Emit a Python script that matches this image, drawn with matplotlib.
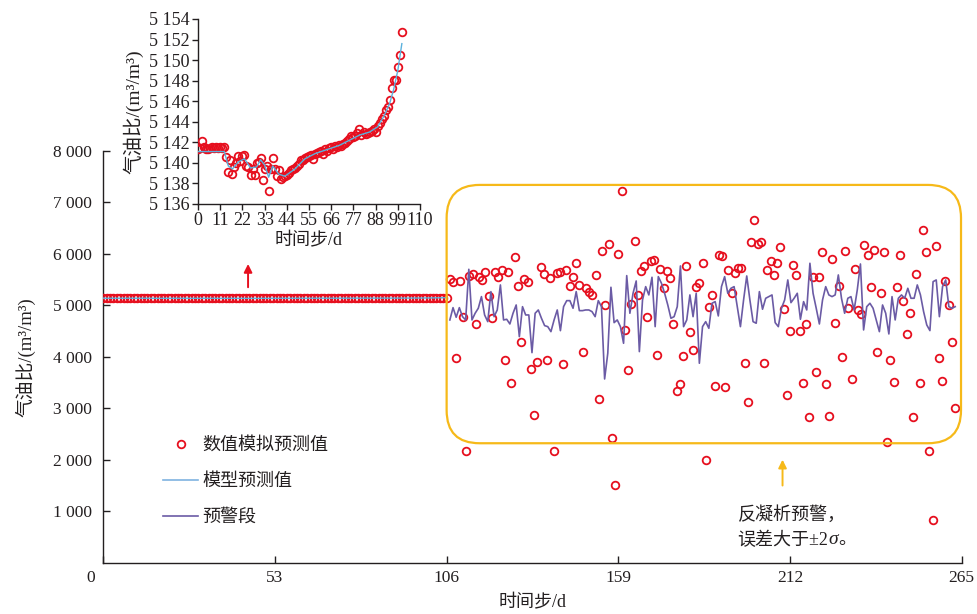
import numpy as np
import matplotlib
matplotlib.use('Agg')
import matplotlib.pyplot as plt
from matplotlib.ticker import FuncFormatter
from matplotlib.patches import FancyBboxPatch
from matplotlib.lines import Line2D

plt.rcParams['font.family'] = ['Liberation Serif', 'Noto Sans CJK SC']

RED = '#E60F1E'
PURPLE = '#6B5BA5'
BLUE = '#5BB1DD'
ORANGE = '#F6B919'
INK = '#231F20'

# ---------------- data ----------------
inset_steps = np.arange(102)
inset_sim = [5141.3, 5141.4, 5142.1, 5141.5, 5141.3, 5141.3, 5141.4, 5141.5, 5141.4, 5141.5,
             5141.4, 5141.5, 5141.4, 5141.5, 5140.6, 5139.1, 5140.3, 5138.9, 5139.6, 5140.0,
             5140.7, 5140.2, 5140.7, 5140.8, 5139.7, 5139.6, 5138.8, 5139.4, 5138.8, 5140.0,
             5140.1, 5140.5, 5138.3, 5139.4, 5139.7, 5137.3, 5139.4, 5140.5, 5139.4, 5138.7,
             5139.3, 5138.4, 5138.6, 5138.7, 5138.8, 5139.0, 5139.3, 5139.4, 5139.5, 5139.7,
             5139.9, 5140.3, 5140.3, 5140.5, 5140.6, 5140.7, 5140.8, 5140.4, 5140.9, 5141.0,
             5141.1, 5141.2, 5140.9, 5141.3, 5141.2, 5141.4, 5141.5, 5141.3, 5141.6, 5141.5,
             5141.7, 5141.6, 5141.8, 5141.9, 5142.1, 5142.3, 5142.6, 5142.5, 5142.6, 5142.9,
             5143.3, 5142.7, 5143.0, 5142.8, 5142.9, 5143.0, 5143.1, 5143.3, 5143.0, 5143.6,
             5143.9, 5144.3, 5144.6, 5145.1, 5145.4, 5146.1, 5147.3, 5148.1, 5148.1, 5149.3,
             5150.5, 5152.7]

model_steps = [0, 13, 15, 17, 20, 23, 26, 29, 31, 33, 35, 37, 40, 43, 48, 53, 58, 64,
               70, 75, 80, 85, 89, 92, 95, 97, 99, 101]
model_vals = [5141.1, 5141.1, 5139.7, 5139.4, 5140.1, 5140.4, 5139.5, 5139.6, 5140.3,
              5139.8, 5138.6, 5139.7, 5138.9, 5138.7, 5139.4, 5140.4, 5140.9, 5141.3,
              5141.7, 5142.2, 5142.7, 5143.0, 5143.5, 5144.5, 5145.8, 5147.2, 5149.0, 5151.6]

stage1_last = 106          # last step of the stable stage in the main chart
warn_first, warn_last = 107, 263

warn_sim = [5509, 5463, 3987, 5483, 4777, 2175, 5580, 5618, 4641, 5560,
            5496, 5645, 5179, 4764, 5657, 5554, 5696, 3936, 5651, 3490,
            5948, 5385, 4292, 5509, 5451, 3773, 2880, 3903, 5748, 5618,
            3942, 5535, 2175, 5638, 5657, 3865, 5690, 5373, 5548, 5832,
            5405, 4092, 5335, 5263, 5199, 5593, 3191, 6053, 5010, 6195,
            2421, 1515, 6007, 7230, 4525, 3748, 5024, 6253, 5211, 5677,
            5774, 4777, 5859, 5891, 4046, 5716, 5347, 5677, 5529, 4641,
            3346, 3470, 4020, 5768, 4492, 4136, 5354, 5438, 5820, 2006,
            4972, 5199, 3431, 5975, 5962, 3412, 5690, 5250, 5632, 5723,
            5735, 3878, 3121, 6240, 6655, 6195, 6228, 3890, 5690, 5859,
            5587, 5832, 6131, 4927, 3257, 4512, 5793, 5587, 4512, 3502,
            4648, 2829, 5560, 3716, 5560, 6033, 3470, 2849, 5910, 4655,
            5379, 3994, 6065, 4952, 3579, 5709, 4907, 4836, 6170, 5975,
            5360, 6078, 4098, 5237, 6033, 2344, 3942, 3515, 5360, 5988,
            5094, 4441, 4861, 2829, 5618, 3502, 6473, 6046, 2175, 835,
            6151, 3981, 3540, 5471, 5005, 4292, 3016]

warn_line = [4719, 4958, 4771, 4958, 4783, 4719, 5703, 4719, 4849, 4946, 5172, 4816, 4686,
             5269, 4783, 4913, 5399, 4719, 4732, 4641, 4849, 5010, 4395, 4977, 4816, 4816,
             4084, 4849, 4913, 4752, 4609, 4589, 4492, 4719, 4913, 4511, 4977, 5094, 5094,
             4946, 5269, 4900, 4900, 4913, 4913, 4881, 4783, 5094, 4977, 3573, 4072, 5354,
             4667, 4719, 4589, 4266, 5580, 4849, 5237, 5476, 4104, 5107, 5366, 5205, 5548,
             4589, 5560, 5431, 5237, 5010, 4752, 4783, 4977, 5768, 4589, 4719, 5205, 4783,
             5237, 3878, 4589, 4686, 4557, 5043, 5075, 4797, 5366, 5560, 5237, 5334, 5366,
             4977, 4589, 5107, 5573, 5107, 4686, 4655, 5269, 4927, 5140, 5172, 5205, 4667,
             4589, 4946, 5107, 5496, 5055, 5140, 5237, 4732, 5075, 4913, 5820, 5237, 4946,
             4641, 5107, 5366, 5205, 5172, 5205, 5593, 5140, 4849, 5140, 5172, 4913, 5302,
             5806, 4525, 4977, 5043, 4946, 4719, 4492, 5010, 4849, 4447, 5172, 4719, 5140,
             5205, 5140, 5334, 5140, 5140, 5399, 5205, 4881, 4622, 4512, 5463, 5496, 4783,
             5366, 5496, 4977, 4946, 4977]

x_ticks = [0, 53, 106, 159, 212, 265]
y_ticks = [1000, 2000, 3000, 4000, 5000, 6000, 7000, 8000]
inset_xticks = list(range(0, 111, 11))
inset_yticks = list(range(5136, 5155, 2))

labels = ['数值模拟预测值', '模型预测值', '预警段']
ylabel_txt = '气油比/(m³/m³)'
xlabel_txt = '时间步/d'

# ---------------- figure ----------------
fig = plt.figure(figsize=(9.77, 6.14), dpi=100)
ax = fig.add_axes([0.1057, 0.0831, 0.8786, 0.6710])
ax.set_xlim(0, 265)
ax.set_ylim(0, 8000)

spaced = FuncFormatter(lambda v, p: f'{int(round(v)):,}'.replace(',', ' '))

stage1_x = np.linspace(0, stage1_last, len(inset_sim))
model_main_x = np.interp(model_steps, inset_steps, stage1_x)
warn_sim_x = np.arange(warn_first, warn_first + len(warn_sim))
warn_line_x = np.linspace(warn_first, warn_last, len(warn_line))

mk = dict(ls='none', marker='o', mfc='none', mec=RED, ms=5.5, mew=1.3)
ax.plot(stage1_x, inset_sim, zorder=3, **mk)
ax.plot(warn_sim_x, warn_sim, zorder=3, **mk)
ax.plot(model_main_x, model_vals, color=BLUE, lw=1.0, zorder=4)
ax.plot(warn_line_x, warn_line, color=PURPLE, lw=1.2, zorder=4)

for s in ['top', 'right']:
    ax.spines[s].set_visible(False)
for s in ['left', 'bottom']:
    ax.spines[s].set_color(INK)
    ax.spines[s].set_linewidth(1.0)

ax.set_xticks(x_ticks)
ax.set_xticklabels([''] + [str(t) for t in x_ticks[1:]])
ax.set_yticks(y_ticks)
ax.yaxis.set_major_formatter(spaced)
ax.tick_params(axis='both', direction='in', length=5, width=1.0, colors=INK,
               labelsize=12.5)
ax.tick_params(axis='y', pad=8)
ax.tick_params(axis='x', pad=5)
ax.annotate('0', xy=(0, 0), xycoords='axes fraction', xytext=(-13, -15),
            textcoords='offset pixels', ha='center', va='center', fontsize=12.5, color=INK)

ax.set_xlabel(xlabel_txt, fontsize=13, color=INK, labelpad=6)
ax.set_ylabel(ylabel_txt, fontsize=13.5, color=INK, labelpad=13)

# warning box
p0 = ax.transData.transform((106.0, 2325)) / fig.dpi
p1 = ax.transData.transform((264.8, 7341)) / fig.dpi
box = FancyBboxPatch((p0[0], p0[1]), p1[0] - p0[0], p1[1] - p0[1],
                     boxstyle='round,pad=0,rounding_size=0.33',
                     transform=fig.dpi_scale_trans, fill=False,
                     edgecolor=ORANGE, lw=1.6, zorder=5)
fig.add_artist(box)

# arrows
ax.annotate('', xy=(44.7, 5860), xytext=(44.7, 5300),
            arrowprops=dict(arrowstyle='-|>', color=RED, lw=1.4, mutation_scale=12))
ax.annotate('', xy=(209.7, 2060), xytext=(209.7, 1450),
            arrowprops=dict(arrowstyle='-|>', color=ORANGE, lw=1.4, mutation_scale=12))

# note text
ax.text(195.8, 932, '反凝析预警，', fontsize=13, color=INK, ha='left', va='center')
t2 = ax.text(195.8, 447, '误差大于±2', fontsize=13, color=INK, ha='left', va='center')
t3 = ax.annotate('σ', xy=(1, 0.5), xycoords=t2, ha='left', va='center',
                 fontsize=14, color=INK, fontstyle='italic')
ax.annotate('。', xy=(1, 0.5), xycoords=t3, ha='left', va='center',
            fontsize=13, color=INK)

# legend
handles = [Line2D([], [], ls='none', marker='o', mfc='none', mec=RED, ms=5.5, mew=1.3),
           Line2D([], [], color='#7FB3E0', lw=1.2),
           Line2D([], [], color=PURPLE, lw=1.2)]
leg = ax.legend(handles, labels, loc='upper left', bbox_to_anchor=(0.07, 0.306),
                frameon=False, fontsize=13, handlelength=1.9, handletextpad=0.25,
                labelspacing=1.05, borderpad=0, borderaxespad=0)
for t in leg.get_texts():
    t.set_color(INK)

# ---------------- inset ----------------
ax2 = fig.add_axes([0.2027, 0.6678, 0.2272, 0.3013])
ax2.patch.set_alpha(0)
ax2.set_xlim(0, 110)
ax2.set_ylim(5136, 5154)
ax2.plot(inset_steps, inset_sim, zorder=3, **mk)
ax2.plot(model_steps, model_vals, color=BLUE, lw=1.0, zorder=4)
for s in ['top', 'right']:
    ax2.spines[s].set_visible(False)
for s in ['left', 'bottom']:
    ax2.spines[s].set_color(INK)
    ax2.spines[s].set_linewidth(1.0)
ax2.set_xticks(inset_xticks)
ax2.set_yticks(inset_yticks)
ax2.yaxis.set_major_formatter(spaced)
ax2.tick_params(axis='both', direction='out', length=4, width=1.0, colors=INK,
                labelsize=13, pad=2)
ax2.set_xlabel(xlabel_txt, fontsize=13, color=INK, labelpad=2)
ax2.set_ylabel(ylabel_txt, fontsize=14, color=INK, labelpad=4)

fig.savefig('out.png', dpi=100)
